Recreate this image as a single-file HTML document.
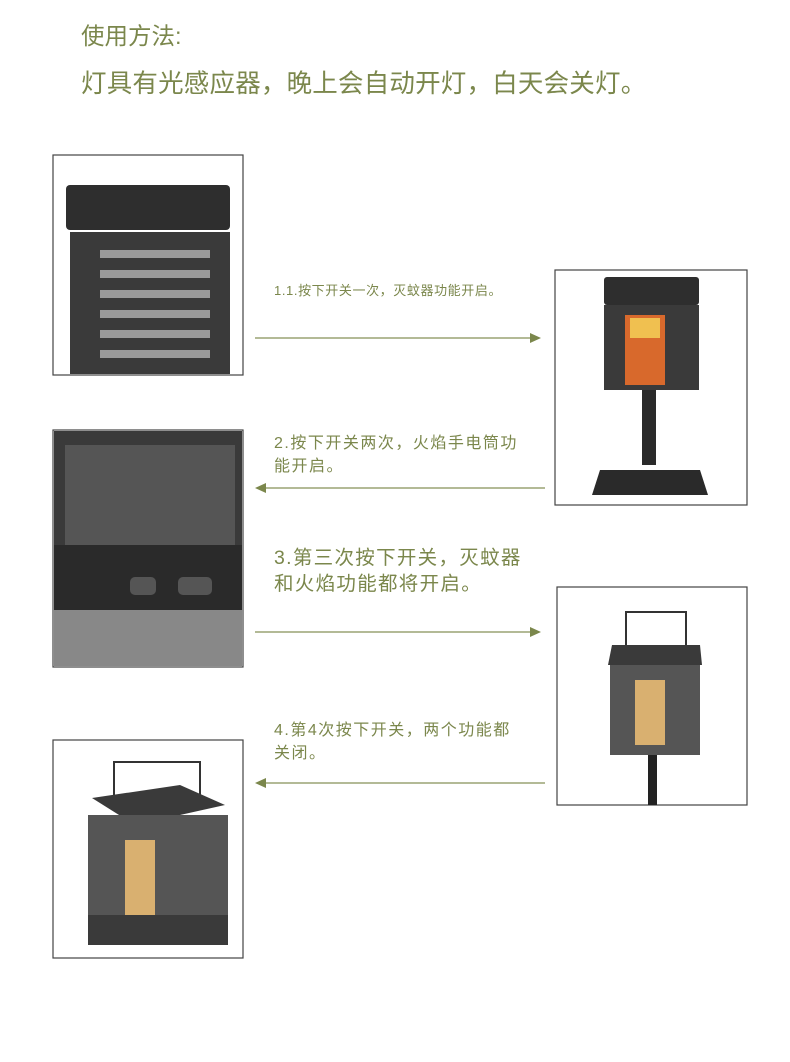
<!DOCTYPE html>
<html><head><meta charset="utf-8"><style>
body{margin:0;width:790px;height:1062px;background:#fff;position:relative;overflow:hidden;font-family:"Liberation Sans","Noto Sans CJK SC",sans-serif;color:#7b874c}
.t{position:absolute;white-space:nowrap}
svg{position:absolute;left:0;top:0}
</style></head><body>
<div class="t" style="left:81px;top:17px;font-size:23.5px">使用方法:</div>
<div class="t" style="left:81px;top:63px;font-size:25.5px;letter-spacing:0.2px">灯具有光感应器，晚上会自动开灯，白天会关灯。</div>
<div class="t" style="left:274px;top:280px;font-size:13px;letter-spacing:0.6px">1.1.按下开关一次，灭蚊器功能开启。</div>
<div class="t" style="left:274px;top:432px;font-size:16px;line-height:23px;letter-spacing:1.5px">2.按下开关两次，火焰手电筒功<br>能开启。</div>
<div class="t" style="left:274px;top:545px;font-size:19.5px;line-height:26px;letter-spacing:1.3px">3.第三次按下开关，灭蚊器<br>和火焰功能都将开启。</div>
<div class="t" style="left:274px;top:719px;font-size:16px;line-height:23px;letter-spacing:1.5px">4.第4次按下开关，两个功能都<br>关闭。</div>
<svg width="790" height="1062">
<g stroke="#9aa474" stroke-width="1.5" fill="#7b874c">
<line x1="255" y1="338" x2="532" y2="338"/><polygon points="541,338 530,333 530,343" stroke="none"/>
<line x1="264" y1="488" x2="545" y2="488"/><polygon points="255,488 266,483 266,493" stroke="none"/>
<line x1="255" y1="632" x2="532" y2="632"/><polygon points="541,632 530,627 530,637" stroke="none"/>
<line x1="264" y1="783" x2="545" y2="783"/><polygon points="255,783 266,778 266,788" stroke="none"/>
</g>
<g fill="none" stroke="#444" stroke-width="1.2">
<rect x="53" y="155" width="190" height="220"/>
<rect x="555" y="270" width="192" height="235"/>
<rect x="53" y="430" width="190" height="237"/>
<rect x="557" y="587" width="190" height="218"/>
<rect x="53" y="740" width="190" height="218"/>
</g>
<rect x="66" y="185" width="164" height="45" rx="4" fill="#2e2e2e"/>
<rect x="70" y="232" width="160" height="142" fill="#3a3a3a"/>
<g fill="#9a9a9a"><rect x="100" y="250" width="110" height="8"/><rect x="100" y="270" width="110" height="8"/><rect x="100" y="290" width="110" height="8"/><rect x="100" y="310" width="110" height="8"/><rect x="100" y="330" width="110" height="8"/><rect x="100" y="350" width="110" height="8"/></g>
<rect x="604" y="277" width="95" height="28" rx="3" fill="#2e2e2e"/>
<rect x="604" y="305" width="95" height="85" fill="#3a3a3a"/>
<rect x="625" y="315" width="40" height="70" fill="#d8692c"/>
<rect x="630" y="318" width="30" height="20" fill="#f0c050"/>
<rect x="642" y="390" width="14" height="75" fill="#2a2a2a"/>
<polygon points="600,470 700,470 708,495 592,495" fill="#2a2a2a"/>
<rect x="54" y="431" width="188" height="235" fill="#3a3a3a"/>
<rect x="65" y="445" width="170" height="100" fill="#555"/>
<rect x="54" y="545" width="188" height="65" fill="#2a2a2a"/>
<rect x="54" y="610" width="188" height="56" fill="#888"/>
<rect x="130" y="577" width="26" height="18" rx="5" fill="#555"/><rect x="178" y="577" width="34" height="18" rx="5" fill="#555"/>
<path d="M626 645 L626 612 L686 612 L686 645" fill="none" stroke="#333" stroke-width="2"/>
<polygon points="612,645 700,645 702,665 608,665" fill="#3a3a3a"/>
<rect x="610" y="665" width="90" height="90" fill="#555"/>
<rect x="635" y="680" width="30" height="65" fill="#d9b070"/>
<rect x="648" y="755" width="9" height="50" fill="#222"/>
<path d="M114 800 L114 762 L200 762 L200 800" fill="none" stroke="#333" stroke-width="2"/>
<polygon points="92,798 180,785 225,805 135,825" fill="#3a3a3a"/>
<rect x="88" y="815" width="140" height="130" fill="#555"/>
<rect x="125" y="840" width="30" height="85" fill="#d9b070"/>
<rect x="88" y="915" width="140" height="30" fill="#3a3a3a"/>
</svg>
</body></html>
